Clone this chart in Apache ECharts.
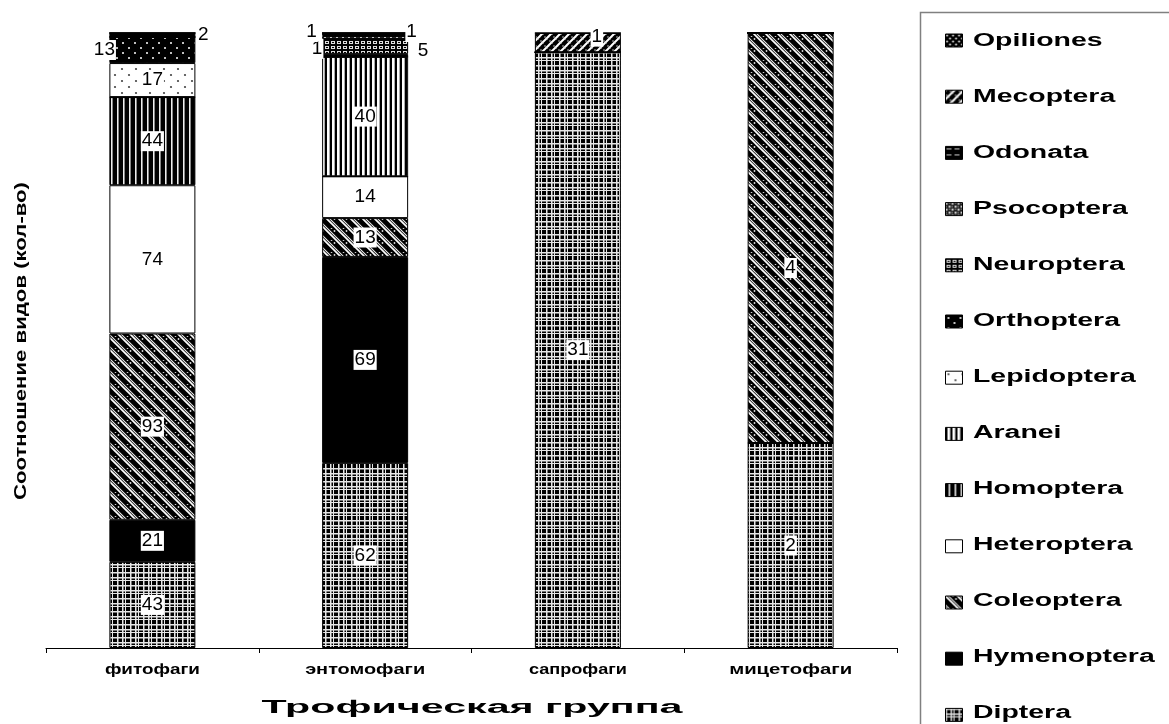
<!DOCTYPE html>
<html>
<head>
<meta charset="utf-8">
<script src="https://cdn.jsdelivr.net/npm/echarts@6/dist/echarts.min.js"></script>
<style>
  html, body { margin: 0; padding: 0; background: #fff; }
  #chart { width: 1169px; height: 724px; }
</style>
</head>
<body>
<div id="chart"></div>
<script>
// Trophic groups on the x axis
const categories = ['фитофаги', 'энтомофаги', 'сапрофаги', 'мицетофаги'];

// Species counts per order, one value per trophic group (stacked bottom to top)
const Diptera     = [43, 62, 31, 2];
const Hymenoptera = [21, 69, 0, 0];
const Coleoptera  = [93, 13, 0, 4];
const Heteroptera = [74, 14, 0, 0];
const Homoptera   = [44, 0, 0, 0];
const Aranei      = [0, 40, 0, 0];
const Lepidoptera = [17, 0, 0, 0];
const Orthoptera  = [13, 1, 0, 0];
const Neuroptera  = [0, 5, 0, 0];
const Psocoptera  = [0, 1, 0, 0];
const Odonata     = [2, 1, 0, 0];
const Mecoptera   = [0, 0, 1, 0];
const Opiliones   = [0, 0, 0, 0];

const seriesNames = ['Diptera', 'Hymenoptera', 'Coleoptera', 'Heteroptera', 'Homoptera', 'Aranei',
  'Lepidoptera', 'Orthoptera', 'Neuroptera', 'Psocoptera', 'Odonata', 'Mecoptera', 'Opiliones'];
const seriesValues = [Diptera, Hymenoptera, Coleoptera, Heteroptera, Homoptera, Aranei,
  Lepidoptera, Orthoptera, Neuroptera, Psocoptera, Odonata, Mecoptera, Opiliones];

const xTitle = 'Трофическая группа';
const yTitle = 'Соотношение видов (кол-во)';

const FONT = '"Liberation Sans", Arial, sans-serif';

// ---- fill patterns ----
function tile(w, h, bg, draw) {
  const c = document.createElement('canvas');
  c.width = w; c.height = h;
  const g = c.getContext('2d');
  g.fillStyle = bg; g.fillRect(0, 0, w, h);
  if (draw) draw(g, w, h);
  return { image: c, repeat: 'repeat' };
}
function dot(g, x, y, r, col) { g.fillStyle = col; g.beginPath(); g.arc(x, y, r, 0, Math.PI * 2); g.fill(); }
function diag(g, w, off, lw, col, forward) {
  g.strokeStyle = col; g.lineWidth = lw;
  for (const o of [-w, 0, w]) {
    g.beginPath();
    if (forward) { g.moveTo(o + off - 1, w + 1); g.lineTo(o + off + w + 1, -1); }
    else { g.moveTo(o + off - 1, -1); g.lineTo(o + off + w + 1, w + 1); }
    g.stroke();
  }
}

const patterns = {
  Diptera: tile(13, 13, '#000', (g) => {
    g.fillStyle = '#e6e6e6';
    g.fillRect(0, 0, 1.5, 13); g.fillRect(5, 0, 1.5, 13); g.fillRect(8, 0, 1, 13);
    g.fillRect(0, 0, 13, 1.5); g.fillRect(0, 5, 13, 1.5); g.fillRect(0, 8, 13, 1);
  }),
  Hymenoptera: '#000',
  Coleoptera: tile(12, 12, '#000', (g) => {
    diag(g, 12, 0, 1.7, '#fff', false);
    diag(g, 12, 3, 1.1, '#eee', false);
    for (let k = -12; k <= 24; k += 3) dot(g, k + 7.5, k - 0, 0.9, '#ddd');
  }),
  Heteroptera: '#fff',
  Homoptera: tile(6, 2, '#000', (g) => {
    g.fillStyle = '#eee'; g.fillRect(3, 0, 1, 2);
    g.fillStyle = '#888'; g.fillRect(4, 0, 1, 2);
  }),
  Aranei: tile(5, 2, '#fff', (g) => {
    g.fillStyle = '#000'; g.fillRect(0, 0, 2, 2);
    g.fillStyle = '#aaa'; g.fillRect(4, 0, 1, 2);
  }),
  Lepidoptera: tile(14, 12, '#fff', (g) => {
    dot(g, 3, 3, 1.1, '#444'); dot(g, 10, 9, 1.1, '#444');
  }),
  Orthoptera: tile(12, 10, '#000', (g) => {
    dot(g, 3, 3, 1, '#fff'); dot(g, 9, 8, 1, '#fff');
  }),
  Neuroptera: tile(6, 5, '#000', (g) => {
    g.fillStyle = '#ddd'; g.fillRect(1, 1, 4, 3);
    g.fillStyle = '#000'; g.fillRect(2, 2, 2, 1);
  }),
  Psocoptera: tile(6, 6, '#222', (g) => {
    g.fillStyle = '#ccc'; g.fillRect(0, 0, 2, 2); g.fillRect(3, 3, 2, 2);
    g.fillStyle = '#888'; g.fillRect(3, 0, 2, 1); g.fillRect(0, 3, 1, 2);
  }),
  Odonata: tile(8, 6, '#000', (g) => {
    g.fillStyle = '#ccc'; g.fillRect(1, 2, 5, 1);
  }),
  Mecoptera: tile(9, 9, '#000', (g) => {
    diag(g, 9, 0, 2, '#fff', true);
    for (const [x, y] of [[5, 1], [7, 3], [1, 5], [3, 7]]) dot(g, x, y, 0.8, '#ccc');
  }),
  Opiliones: tile(6, 6, '#000', (g) => {
    dot(g, 1.5, 1.5, 0.9, '#fff'); dot(g, 4.5, 4.5, 0.9, '#fff');
  })
};

// Column totals so every group fills the full height
const totals = categories.map((_, i) => seriesValues.reduce((s, arr) => s + arr[i], 0));

// Label placement for the thin top segments (label offsets in px)
const labelShift = {
  'Orthoptera|0': [-48, 0],
  'Odonata|0': [51, 0],
  'Orthoptera|1': [-48, -6.5],
  'Neuroptera|1': [58, 4.5],
  'Psocoptera|1': [-53.5, -5.5],
  'Odonata|1': [46.5, -2.5],
  'Mecoptera|2': [19, -6],
  'Coleoptera|3': [0, 30]
};

const series = seriesNames.map((name, si) => ({
  name,
  type: 'bar',
  stack: 'total',
  barWidth: 86,
  itemStyle: { color: patterns[name], borderColor: '#000', borderWidth: 1 },
  emphasis: { disabled: true },
  data: seriesValues[si].map((v, ci) => {
    const item = { value: totals[ci] ? v / totals[ci] * 100 : 0, raw: v };
    const off = labelShift[name + '|' + ci];
    if (v === 0) item.label = { show: false };
    else if (off) item.label = { offset: off };
    return item;
  }),
  label: {
    show: true,
    position: 'inside',
    color: '#000',
    fontFamily: FONT,
    fontSize: 19,
    backgroundColor: '#fff',
    padding: [1, 1, 0, 1],
    formatter: (p) => String(p.data.raw)
  }
}));

// Width of a string in a given font, used to stretch text to the wide lettering
const measureCtx = document.createElement('canvas').getContext('2d');
function textWidth(text, size, weight) {
  measureCtx.font = (weight || 'bold') + ' ' + size + 'px ' + FONT;
  return measureCtx.measureText(text).width;
}
function wideText(text, x, y, size, targetWidth, opts) {
  const s = targetWidth / textWidth(text, size);
  return Object.assign({
    type: 'text', x, y, scaleX: s, silent: true,
    style: { text, x: 0, y: 0, fill: '#000', font: 'bold ' + size + 'px ' + FONT, align: 'center', verticalAlign: 'middle' }
  }, opts || {});
}

const chart = echarts.init(document.getElementById('chart'), null, { renderer: 'canvas' });
chart.setOption({
  animation: false,
  backgroundColor: '#fff',
  grid: { left: 46, right: 272, top: 33, bottom: 76 },
  xAxis: {
    type: 'category',
    data: categories,
    axisLine: { lineStyle: { color: '#000', width: 1 } },
    axisTick: { show: true, length: 5, lineStyle: { color: '#000' } },
    axisLabel: { show: false },
    splitLine: { show: false }
  },
  yAxis: {
    type: 'value',
    min: 0,
    max: 100,
    axisLine: { show: false },
    axisTick: { show: false },
    axisLabel: { show: false },
    splitLine: { show: false }
  },
  legend: {
    orient: 'vertical',
    left: 945,
    top: 33.5,
    padding: 0,
    height: 700,
    itemWidth: 17,
    itemHeight: 13,
    itemGap: 42.2,
    icon: 'rect',
    selectedMode: false,
    data: seriesNames.slice().reverse(),
    formatter: () => '',
    itemStyle: { borderColor: '#000', borderWidth: 1 },
    textStyle: { fontSize: 12, lineHeight: 13 }
  },
  series
});

// Category labels under each column, titles and the legend frame with its names
const graphics = [{
  type: 'rect',
  shape: { x: 920.5, y: 12.5, width: 300, height: 800 },
  style: { fill: 'none', stroke: '#808080', lineWidth: 1.5 },
  silent: true
}];
const catWidths = [95, 120, 98, 123];
categories.forEach((c, i) => {
  const px = chart.convertToPixel({ xAxisIndex: 0 }, c);
  graphics.push(wideText(c, px, 670, 14, catWidths[i]));
});
graphics.push(wideText(xTitle, 472, 708, 18, 421));
graphics.push(wideText(yTitle, 22, 341, 16, 318, { rotation: Math.PI / 2 }));
const legendNames = seriesNames.slice().reverse();
legendNames.forEach((n, i) => {
  graphics.push({
    type: 'text', x: 973, y: 41 + 56 * i, scaleX: 1.58, silent: true,
    style: { text: n, x: 0, y: 0, fill: '#000', font: 'bold 18px ' + FONT, align: 'left', verticalAlign: 'middle' }
  });
});
chart.setOption({ graphic: graphics });
</script>
</body>
</html>
